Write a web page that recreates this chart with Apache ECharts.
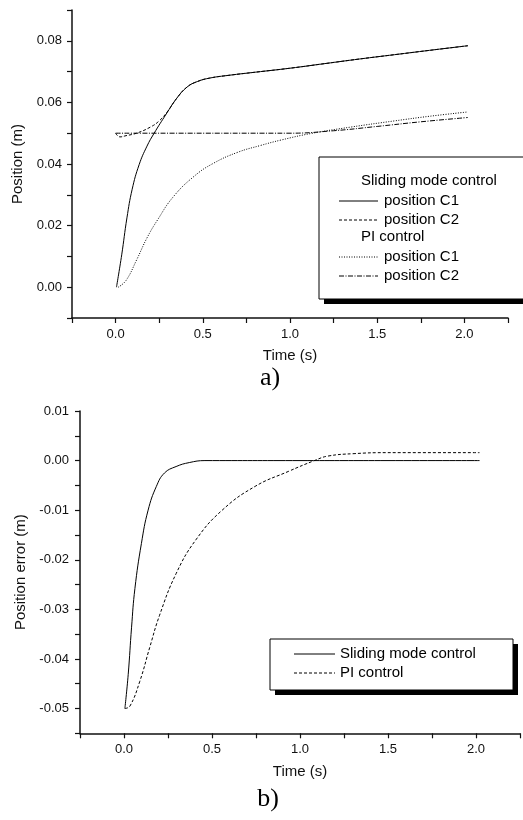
<!DOCTYPE html>
<html lang="en">

<head>
    <meta charset="UTF-8">
    <title>Position / position error</title>
    <script src="https://cdn.jsdelivr.net/npm/echarts@6/dist/echarts.min.js"></script>
    <style>
        html, body { margin: 0; padding: 0; background: #fff; }
        #main { width: 523px; height: 820px; }
    </style>
</head>

<body>
    <div id="main"></div>

    <script>
        // ---- a) position, time in s / value in m ----
        var smcC1T = [0.005, 0.035, 0.065, 0.095, 0.135, 0.18, 0.22, 0.29, 0.35, 0.41, 0.47, 0.54, 0.65, 0.8, 1.0, 1.2, 1.4, 1.6, 1.8, 2.02];
        var smcC1V = [0, 0.0105, 0.0225, 0.0318, 0.0398, 0.0458, 0.0499, 0.0562, 0.0613, 0.0650, 0.0668, 0.0679, 0.0688, 0.0698, 0.0711, 0.0726, 0.0741, 0.0755, 0.0769, 0.0784];

        var smcC2T = [0, 0.025, 0.06, 0.12, 0.2, 0.25, 0.3, 0.35, 0.41, 0.47, 0.54, 0.65, 0.8, 1.0, 1.2, 1.4, 1.6, 1.8, 2.02];
        var smcC2V = [0.0500, 0.0488, 0.0492, 0.0500, 0.0520, 0.0540, 0.0572, 0.0613, 0.0650, 0.0668, 0.0679, 0.0688, 0.0698, 0.0711, 0.0726, 0.0741, 0.0755, 0.0769, 0.0784];

        var piC1T = [0.015, 0.06, 0.12, 0.18, 0.24, 0.33, 0.45, 0.56, 0.7, 0.83, 0.95, 1.12, 1.35, 1.6, 1.8, 2.02];
        var piC1V = [0, 0.0022, 0.0088, 0.0160, 0.0218, 0.0293, 0.0360, 0.0402, 0.0438, 0.0460, 0.0478, 0.0499, 0.0520, 0.0540, 0.0555, 0.0569];

        var piC2T = [0, 0.5, 1.0, 1.25, 1.5, 1.75, 2.02];
        var piC2V = [0.0500, 0.0500, 0.0500, 0.0508, 0.0522, 0.0537, 0.0551];

        // ---- b) position error ----
        var errSmcT = [0.005, 0.024, 0.043, 0.062, 0.099, 0.137, 0.184, 0.23, 0.296, 0.371, 0.46, 1.0, 1.5, 2.02];
        var errSmcV = [-0.0500, -0.0431, -0.0336, -0.0258, -0.0167, -0.0100, -0.0052, -0.0025, -0.0012, -0.0004, 0, 0, 0, 0];

        var errPiT = [0.005, 0.034, 0.09, 0.146, 0.202, 0.296, 0.408, 0.558, 0.745, 0.933, 1.082, 1.157, 1.307, 1.494, 2.02];
        var errPiV = [-0.0500, -0.0495, -0.0445, -0.0377, -0.0312, -0.0228, -0.0160, -0.0100, -0.0052, -0.0022, 0, 0.0009, 0.0014, 0.0016, 0.0016];

        var timeTicks = [0.0, 0.5, 1.0, 1.5, 2.0];

        function pairs(t, v) {
            var out = [];
            for (var i = 0; i < t.length; i++) out.push([t[i], v[i]]);
            return out;
        }

        // show a label only on every "step", inside [lo, hi]
        function stepLabel(step, lo, hi, digits) {
            return function (v) {
                var k = v / step;
                if (Math.abs(k - Math.round(k)) > 1e-6) return '';
                if (v < lo - 1e-9 || v > hi + 1e-9) return '';
                if (Math.abs(v) < 1e-9) v = 0;
                return v.toFixed(digits);
            };
        }

        var FONT = '"Liberation Sans", Arial, sans-serif';
        var axisCommon = {
            axisLine: { onZero: false, lineStyle: { color: '#111', width: 1.5 } },
            axisTick: { inside: false, length: 5, lineStyle: { color: '#111', width: 1.2 } },
            splitLine: { show: false },
            axisLabel: { color: '#111', fontSize: 13, fontFamily: FONT },
            nameTextStyle: { color: '#111', fontSize: 15, fontFamily: FONT },
            nameLocation: 'middle'
        };

        function axis(extra) {
            var a = JSON.parse(JSON.stringify(axisCommon));
            for (var k in extra) {
                if (k === 'axisLabel') {
                    for (var j in extra.axisLabel) a.axisLabel[j] = extra.axisLabel[j];
                } else a[k] = extra[k];
            }
            return a;
        }

        function line(name, data, xi, dash) {
            return {
                name: name,
                type: 'line',
                xAxisIndex: xi,
                yAxisIndex: xi,
                data: data,
                symbol: 'none',
                smooth: 0.45,
                lineStyle: { color: '#000', width: 1, type: dash || 'solid' },
                silent: true
            };
        }

        // legend boxes are drawn by hand (group headers are not series)
        function legendLine(x1, x2, y, dash) {
            return {
                type: 'line',
                shape: { x1: x1, y1: y, x2: x2, y2: y },
                style: { stroke: '#000', lineWidth: 1, lineDash: dash }
            };
        }
        function legendText(x, y, s) {
            return {
                type: 'text', x: x, y: y,
                style: { text: s, fill: '#000', font: '15px ' + FONT, textVerticalAlign: 'middle' }
            };
        }

        var dashC2 = [3, 2];
        var dotC1 = [1, 1.5];
        var dashDot = [5, 1.5, 1, 1.5];

        var chart = echarts.init(document.getElementById('main'));
        var option = {
            animation: false,
            backgroundColor: '#fff',
            grid: [
                { left: 72, top: 10, width: 436, height: 308 },
                { left: 80, top: 411, width: 445.5, height: 322.3 }
            ],
            xAxis: [
                axis({
                    type: 'value', gridIndex: 0, min: -0.25, max: 2.25, interval: 0.25,
                    name: 'Time (s)', nameGap: 30,
                    axisLabel: { margin: 10, formatter: stepLabel(0.5, timeTicks[0], timeTicks[timeTicks.length - 1], 1) }
                }),
                axis({
                    type: 'value', gridIndex: 1, min: -0.25, max: 2.25, interval: 0.25,
                    name: 'Time (s)', nameGap: 31,
                    axisLabel: { margin: 10, formatter: stepLabel(0.5, timeTicks[0], timeTicks[timeTicks.length - 1], 1) }
                })
            ],
            yAxis: [
                axis({
                    type: 'value', gridIndex: 0, min: -0.01, max: 0.09, interval: 0.01,
                    name: 'Position (m)', nameGap: 47,
                    axisLabel: { margin: 10, formatter: stepLabel(0.02, 0, 0.08, 2) }
                }),
                axis({
                    type: 'value', gridIndex: 1, min: -0.055, max: 0.01, interval: 0.005,
                    name: 'Position error (m)', nameGap: 48,
                    axisLabel: { margin: 11, formatter: stepLabel(0.01, -0.05, 0.01, 2) }
                })
            ],
            series: [
                line('SMC position C1', pairs(smcC1T, smcC1V), 0),
                line('SMC position C2', pairs(smcC2T, smcC2V), 0, dashC2),
                line('PI position C1', pairs(piC1T, piC1V), 0, dotC1),
                line('PI position C2', pairs(piC2T, piC2V), 0, dashDot),
                line('Sliding mode control', pairs(errSmcT, errSmcV), 1),
                line('PI control', pairs(errPiT, errPiV), 1, dashC2)
            ],
            graphic: [
                // legend a)
                { type: 'rect', shape: { x: 324, y: 162, width: 230, height: 142 }, style: { fill: '#000' } },
                { type: 'rect', shape: { x: 319, y: 157, width: 230, height: 142 }, style: { fill: '#fff', stroke: '#000', lineWidth: 1 } },
                legendText(361, 181, 'Sliding mode control'),
                legendLine(339, 378, 201, null),
                legendText(384, 201, 'position C1'),
                legendLine(339, 378, 220, dashC2),
                legendText(384, 220, 'position C2'),
                legendText(361, 237, 'PI control'),
                legendLine(339, 378, 257, dotC1),
                legendText(384, 257, 'position C1'),
                legendLine(339, 378, 276, dashDot),
                legendText(384, 276, 'position C2'),

                // legend b)
                { type: 'rect', shape: { x: 275, y: 644, width: 243, height: 51 }, style: { fill: '#000' } },
                { type: 'rect', shape: { x: 270, y: 639, width: 243, height: 51 }, style: { fill: '#fff', stroke: '#000', lineWidth: 1 } },
                legendLine(294, 335, 654, null),
                legendText(340, 654, 'Sliding mode control'),
                legendLine(294, 335, 673, dashC2),
                legendText(340, 673, 'PI control'),

                // panel captions
                { type: 'text', x: 270, y: 378, style: { text: 'a)', fill: '#000', font: '26px "Liberation Serif", "Times New Roman", serif', textAlign: 'center', textVerticalAlign: 'middle' } },
                { type: 'text', x: 268, y: 799, style: { text: 'b)', fill: '#000', font: '26px "Liberation Serif", "Times New Roman", serif', textAlign: 'center', textVerticalAlign: 'middle' } }
            ]
        };
        chart.setOption(option);
    </script>
</body>

</html>
